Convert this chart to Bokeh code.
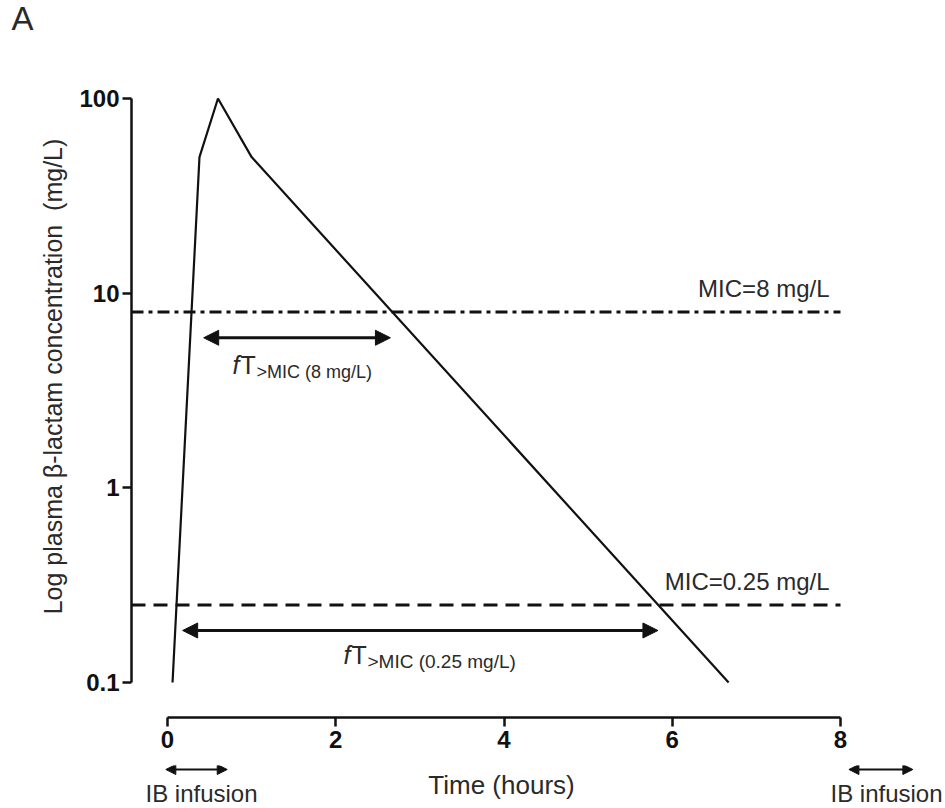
import math
from bokeh.plotting import figure
from bokeh.layouts import column, row
from bokeh.models import Range1d, FixedTicker, Label, Arrow, NormalHead, CustomJSTickFormatter
from bokeh.embed import file_html
from bokeh.resources import INLINE

# ---------------- data ----------------
time_h = [0.06, 0.38, 0.60, 1.00, 6.67]
conc_mg_l = [0.1, 50.0, 100.0, 50.0, 0.1]
mic_values = [8.0, 0.25]
mic_texts = ["MIC=8 mg/L", "MIC=0.25 mg/L"]
ft_start_h = [0.43, 0.18]
ft_end_h = [2.65, 5.83]
ft_level = [5.9, 0.185]
ft_subscripts = [">MIC (8 mg/L)", ">MIC (0.25 mg/L)"]
x_ticks = [0, 2, 4, 6, 8]
y_ticks = [0.1, 1, 10, 100]
infusion_start_h = [-0.02, 8.10]
infusion_end_h = [0.71, 8.86]
infusion_text = "IB infusion"
x_title = "Time (hours)"
y_title = "Log plasma \u03b2-lactam concentration\u00a0 (mg/L)"
panel_tag = "A"

# ---------------- geometry (canvas pixels) ----------------
W, H = 945, 808
LW = 70            # width of the left strip (y title, panel tag)
MH = 765           # height of the main row
FL, FR, FT, FB = 131, 940, 80, 717
X0_PX, X8_PX = 167, 840
PX_PER_H = (X8_PX - X0_PX) / 8.0
Y_LO_PX, Y_HI_PX = 682, 98
PX_PER_DEC = (Y_LO_PX - Y_HI_PX) / 3.0


def hx(px):
    return (px - X0_PX) / PX_PER_H


def vy(py):
    return 10 ** (-1 + (Y_LO_PX - py) / PX_PER_DEC)


FONT = "Liberation Sans"
INK = "#111111"
TXT = "#2a2a2a"


def bare(fig):
    fig.outline_line_color = None
    fig.background_fill_color = "white"
    fig.border_fill_color = "white"
    fig.xgrid.visible = False
    fig.ygrid.visible = False
    fig.frame_align = False
    return fig


# ---------------- main plot ----------------
p = bare(figure(width=W - LW, height=MH,
                x_range=Range1d(hx(FL), hx(FR)), y_range=Range1d(vy(FB), vy(FT)),
                y_axis_type="log", output_backend="svg", toolbar_location=None,
                min_border_left=FL - LW, min_border_right=W - FR,
                min_border_top=FT, min_border_bottom=MH - FB, title=None))

for ax in (p.xaxis[0], p.yaxis[0]):
    ax.major_tick_in = 0
    ax.major_tick_out = 9
    ax.minor_tick_in = 0
    ax.minor_tick_out = 0
    ax.axis_line_width = 2.5
    ax.axis_line_color = INK
    ax.major_tick_line_width = 2.5
    ax.major_tick_line_color = INK
    ax.major_label_text_font = FONT
    ax.major_label_text_font_style = "bold"
    ax.major_label_text_font_size = "24px"
    ax.major_label_text_color = INK

xa = p.xaxis[0]
xa.bounds = (x_ticks[0], x_ticks[-1])
xa.ticker = FixedTicker(ticks=x_ticks, minor_ticks=[])
xa.major_label_standoff = 4

ya = p.yaxis[0]
ya.bounds = (y_ticks[0], y_ticks[-1])
ya.ticker = FixedTicker(ticks=y_ticks, minor_ticks=[])
ya.formatter = CustomJSTickFormatter(code="return String(tick);")
ya.major_label_standoff = 3

p.line(time_h, conc_mg_l, line_width=2.2, line_color=INK)

dashes = ["12 5 4 5", "14 8"]
for mic, txt, dash in zip(mic_values, mic_texts, dashes):
    p.line([hx(FL), x_ticks[-1]], [mic, mic], line_width=3, line_color=INK, line_dash=dash)
    p.add_layout(Label(x=x_ticks[-1], y=mic, x_offset=-11, y_offset=24, text=txt,
                       text_align="right", text_baseline="alphabetic",
                       text_font=FONT, text_font_size="24px", text_color=TXT))

for s, e, lvl in zip(ft_start_h, ft_end_h, ft_level):
    p.add_layout(Arrow(x_start=s, y_start=lvl, x_end=e, y_end=lvl, line_width=3, line_color=INK,
                       start=NormalHead(size=15, fill_color=INK, line_color=INK),
                       end=NormalHead(size=15, fill_color=INK, line_color=INK)))

ft_pos = [(232, 364, "18px"), (343, 654, "19px")]
for (fx, fy, fs), sub in zip(ft_pos, ft_subscripts):
    p.add_layout(Label(x=hx(fx), y=vy(fy), text="f", text_font=FONT, text_font_style="italic",
                       text_font_size="25px", text_color=TXT, text_baseline="alphabetic"))
    p.add_layout(Label(x=hx(fx + 8), y=vy(fy), text="T", text_font=FONT,
                       text_font_size="25px", text_color=TXT, text_baseline="alphabetic"))
    p.add_layout(Label(x=hx(fx + 24), y=vy(fy + 7), text=sub, text_font=FONT,
                       text_font_size=fs, text_color=TXT, text_baseline="alphabetic"))

# ---------------- left strip: panel tag and y title ----------------
left = bare(figure(width=LW, height=MH, x_range=Range1d(0, LW), y_range=Range1d(MH, 0),
                   x_axis_location=None, y_axis_location=None, output_backend="svg",
                   toolbar_location=None, min_border=0, title=None))
left.add_layout(Label(x=11, y=18, text=panel_tag, text_baseline="alphabetic",
                      text_font=FONT, text_font_size="33px", text_color=TXT))
left.add_layout(Label(x=52, y=376, text=y_title, angle=math.pi / 2, text_align="center",
                      text_baseline="alphabetic", text_font=FONT, text_font_size="25px",
                      text_color=TXT))

# ---------------- bottom strip: x title and infusion marks ----------------
bottom = bare(figure(width=W, height=H - MH, x_range=Range1d(hx(0), hx(W)),
                     y_range=Range1d(H, MH), x_axis_location=None, y_axis_location=None,
                     output_backend="svg", toolbar_location=None, min_border=0, title=None))
for s, e, tx in zip(infusion_start_h, infusion_end_h, [145, 830]):
    bottom.add_layout(Arrow(x_start=s, y_start=769, x_end=e, y_end=769, line_width=2,
                            line_color=INK,
                            start=NormalHead(size=10, fill_color=INK, line_color=INK),
                            end=NormalHead(size=10, fill_color=INK, line_color=INK)))
    bottom.add_layout(Label(x=hx(tx), y=793, text=infusion_text, text_font=FONT,
                            text_font_size="24px", text_color=TXT, text_baseline="alphabetic"))
bottom.add_layout(Label(x=hx(501), y=784, text=x_title, text_align="center",
                        text_baseline="alphabetic", text_font=FONT, text_font_size="26px",
                        text_color=TXT))

layout = column(row(left, p, spacing=0), bottom, spacing=0)
open("out.html", "w").write(file_html(layout, INLINE))
